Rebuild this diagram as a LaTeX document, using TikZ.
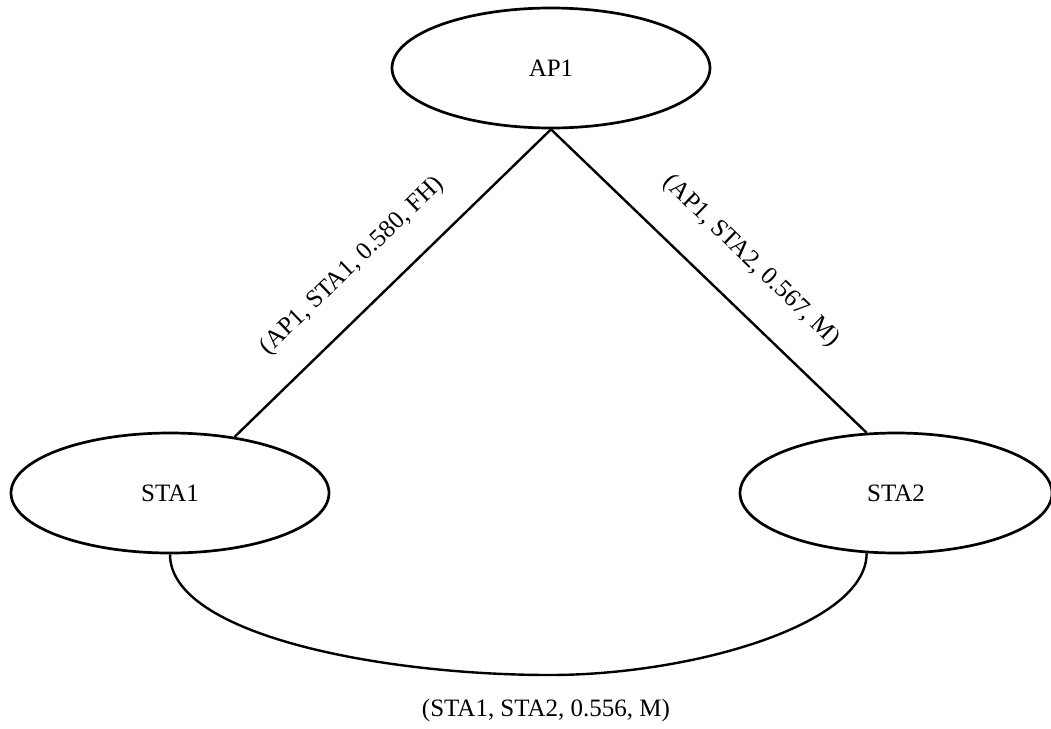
\documentclass[tikz,border=0pt]{standalone}
\usepackage{fontspec}
\setmainfont{Liberation Serif}
\usetikzlibrary{shapes.geometric}
\begin{document}
\begin{tikzpicture}[x=1pt,y=-1pt,
  station/.style={draw, ellipse, line width=2.7pt, minimum width=318pt,
    minimum height=120pt, inner sep=0pt, font=\fontsize{25}{30}\selectfont},
  link/.style={line width=2.4pt},
  linklabel/.style={font=\fontsize{25}{30}\selectfont, inner sep=0pt}]
\useasboundingbox (0,0) rectangle (1051,728);
% stations
\node[station] (ap1) at (551,68) {AP1};
\node[station] (sta1) at (170,493) {STA1};
\node[station, minimum width=312pt] (sta2) at (896,493) {STA2};
\coordinate (arcbot) at (550,675);
% links
\draw[link] (ap1.south) -- (sta1.41);
\draw[link] (ap1.south) -- (sta2.116);
\draw[link] (sta1.south) .. controls +(0,80) and +(-170,0) .. (arcbot)
  .. controls +(140,0) and +(0,72) .. (sta2.-116);
% link labels
\node[linklabel, rotate=44] (lab1) at (352,266) {(AP1, STA1, 0.580, FH)};
\node[linklabel, rotate=-44] (lab2) at (751,261) {(AP1, STA2, 0.567, M)};
\node[linklabel] (lab3) at (546,710) {(STA1, STA2, 0.556, M)};
\end{tikzpicture}
\end{document}
